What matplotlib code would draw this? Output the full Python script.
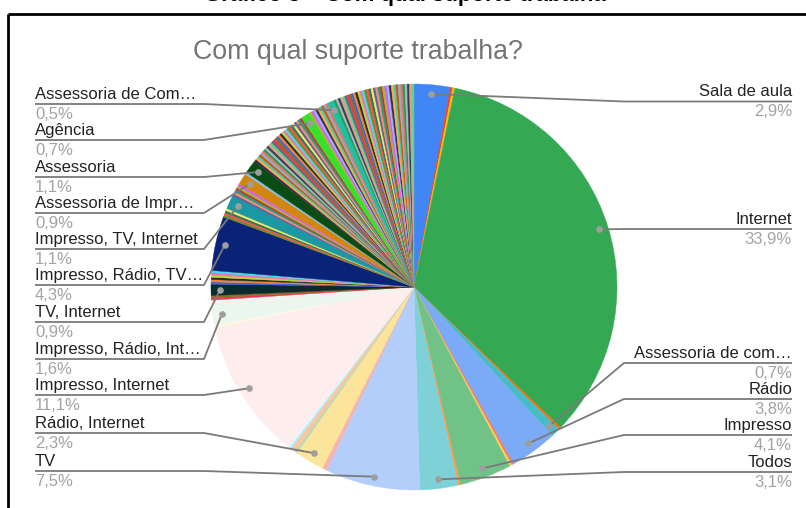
import matplotlib.pyplot as plt
import numpy as np

plt.rcParams['font.family'] = ['Liberation Sans', 'DejaVu Sans']

W, H = 806, 508

# slice counts in clockwise order from 12 o'clock (557 answers in total)
values = [
    16, 1, 1, 189, 1, 4, 21, 1, 1, 23, 1, 17, 42, 2, 13, 1, 2, 1, 1, 62, 1, 9, 1, 1,
    1, 1, 5, 1, 1, 1, 1, 1, 1, 24, 1, 1, 1, 1, 6, 1, 1, 1, 1, 1, 1, 5, 1, 6,
    1, 1, 1, 1, 1, 1, 1, 1, 1, 1, 1, 1, 1, 1, 1, 1, 1, 1, 1, 1, 1, 1, 1, 1, 1, 1, 1, 1,
    4,
    1, 1, 1, 1, 1, 1, 1, 1, 1,
    3,
    1, 1, 1, 1, 1, 1, 1, 1, 1, 1, 1, 1, 1, 1, 1, 1, 1, 1, 1, 1, 1, 1, 1, 1, 1, 1, 1, 1,
    1, 1, 1, 1, 1, 1, 1, 1,
]

labels = [
    "Sala de aula", "", "", "Internet", "", "Assessoria de com…", "Rádio", "", "",
    "Impresso", "", "Todos", "TV", "", "Rádio, Internet", "", "", "", "",
    "Impresso, Internet", "", "Impresso, Rádio, Int…", "", "",
    "", "", "TV, Internet", "", "", "", "", "", "", "Impresso, Rádio, TV…",
    "", "", "", "", "Impresso, TV, Internet", "", "", "", "", "", "",
    "Assessoria de Impr…", "", "Assessoria",
    "", "", "", "", "", "", "", "", "", "", "", "", "", "", "", "", "", "", "", "",
    "", "", "", "", "", "", "", "",
    "Agência",
    "", "", "", "", "", "", "", "", "",
    "Assessoria de Com…",
    "", "", "", "", "", "", "", "", "", "", "", "", "", "", "", "", "", "", "", "",
    "", "", "", "", "", "", "", "", "", "", "", "", "", "", "", "",
]

# label placement: side and y of the underline (pixels from top)
label_rows = {
    "Sala de aula": ("right", 101.5),
    "Internet": ("right", 229),
    "Assessoria de com…": ("right", 363),
    "Rádio": ("right", 399),
    "Impresso": ("right", 435),
    "Todos": ("right", 472),
    "Assessoria de Com…": ("left", 104),
    "Agência": ("left", 140),
    "Assessoria": ("left", 177),
    "Assessoria de Impr…": ("left", 213),
    "Impresso, TV, Internet": ("left", 249),
    "Impresso, Rádio, TV…": ("left", 285),
    "TV, Internet": ("left", 322),
    "Impresso, Rádio, Int…": ("left", 359),
    "Impresso, Internet": ("left", 395),
    "Rádio, Internet": ("left", 433),
    "TV": ("left", 471),
}

google_colors = [
    "#4285F4", "#EA4335", "#FBBC04", "#34A853", "#FF6D01", "#46BDC6",
    "#7BAAF7", "#F07B72", "#FCD04F", "#71C287", "#FF994D", "#7ED1D7",
    "#B3CEFB", "#F7B4AE", "#FDE49B", "#AEDCBA", "#FFC599", "#B5E8EB",
    "#ECF3FE", "#FDEDEC", "#FFF8E6", "#EBF6EE", "#FFF0E6", "#ECF8F9",
]
named_colors = {
    "TV, Internet": "#0b2a2b",
    "Impresso, Rádio, TV…": "#0a2277",
    "Impresso, TV, Internet": "#1a98a3",
    "Assessoria de Impr…": "#d3860e",
    "Assessoria": "#0a4d12",
    "Agência": "#38e02a",
    "Assessoria de Com…": "#1fbfa0",
}
extra_colors = [
    "#e8384f", "#8a6d1e", "#3e64d8", "#f58231", "#2a2a2a", "#b5d93a",
    "#f06eb0", "#49d6e8", "#6b8e23", "#ff4d4d", "#1c7c54", "#f7e463",
    "#5b5ea6", "#ff8a65", "#17a589", "#c0392b", "#9bbc2c", "#e056fd",
    "#85c1e9", "#4a235a", "#f5b041", "#48c9b0", "#d35400", "#7fb3d5",
    "#ec7063", "#229954", "#aab7b8", "#2e4053", "#f1948a", "#58d68d",
    "#5d6d7e",
]

colors = []
k = 0
for i, lab in enumerate(labels):
    if i < len(google_colors):
        colors.append(google_colors[i])
    elif lab in named_colors:
        colors.append(named_colors[lab])
    else:
        colors.append(extra_colors[k % len(extra_colors)])
        k += 1

total = sum(values)

fig = plt.figure(figsize=(W / 100, H / 100), dpi=100)

# pie: centre (414, 287) px, radius 203 px
cx, cy, r = 414, 287, 203
ax = fig.add_axes([(cx - r) / W, (H - cy - r) / H, 2 * r / W, 2 * r / H])
wedges, _ = ax.pie(values, colors=colors, startangle=90, counterclock=False,
                   radius=1, wedgeprops=dict(linewidth=0.3, antialiased=True))
for w, c in zip(wedges, colors):
    w.set_edgecolor(c)
ax.set_xlim(-1, 1)
ax.set_ylim(-1, 1)
ax.set_aspect('equal')
ax.axis('off')

# overlay in pixel coordinates for labels, leaders and frame
ov = fig.add_axes([0, 0, 1, 1], zorder=5)
ov.set_xlim(0, W)
ov.set_ylim(H, 0)
ov.axis('off')
ov.patch.set_alpha(0)

to_px = ax.transData + ov.transData.inverted()

line_col = "#7a7a7a"
for w, lab, v in zip(wedges, labels, values):
    if not lab:
        continue
    side, uy = label_rows[lab]
    mid = np.deg2rad((w.theta1 + w.theta2) / 2)
    dx, dy = to_px.transform((0.955 * np.cos(mid), 0.955 * np.sin(mid)))
    pct = f"{v / total * 100:.1f}".replace('.', ',') + '%'
    if side == 'left':
        ex, tx, ha = 204, 35, 'left'
    else:
        ex, tx, ha = 624, 792, 'right'
    ov.plot([dx, ex, tx], [dy, uy, uy], color=line_col, lw=1.3,
            solid_capstyle='butt')
    ov.plot([dx], [dy], 'o', color="#9e9e9e", ms=4.8, mec='none')
    ov.text(tx, uy - 5, lab, ha=ha, va='baseline', fontsize=12,
            color="#222222")
    ov.text(tx, uy + 15, pct, ha=ha, va='baseline', fontsize=12,
            color="#a3a3a3")

ov.text(357.5, 52, "Com qual suporte trabalha?", ha='center', va='center',
        fontsize=19.3, color="#757575")

# frame of the embedded chart and the cut off caption above it
ov.plot([8, 806], [14, 14], color='black', lw=2, solid_capstyle='butt')
ov.plot([8, 8], [14, 508], color='black', lw=2, solid_capstyle='butt')
ov.text(405, 0.8, "Gráfico 3 – Com qual suporte trabalha", ha='center',
        va='baseline', fontsize=16, fontweight='bold', color='black')

fig.savefig("out.png", dpi=100)
